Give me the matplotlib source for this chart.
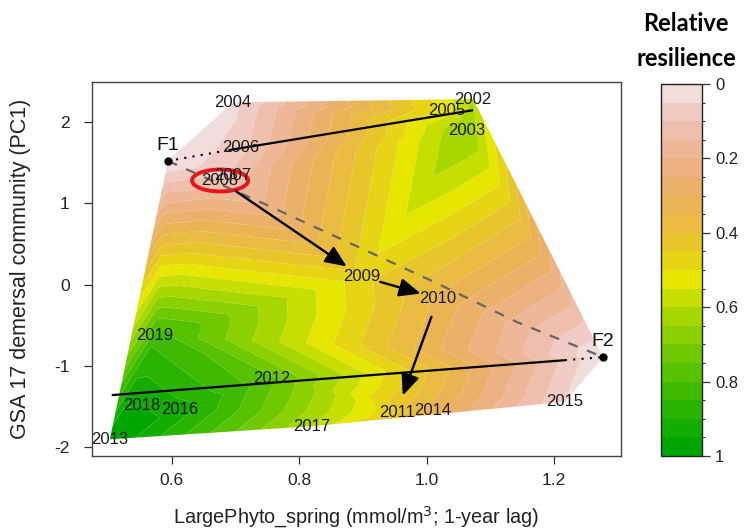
import numpy as np
import matplotlib.pyplot as plt
import matplotlib.tri as mtri
from matplotlib.colors import hsv_to_rgb, ListedColormap, BoundaryNorm
from matplotlib.patches import Ellipse

plt.rcParams['font.family'] = ['Liberation Sans', 'DejaVu Sans']
plt.rcParams['axes.unicode_minus'] = False

# yearly state: spring large phytoplankton (1-year lag) vs demersal community PC1
years = [2002, 2003, 2004, 2005, 2006, 2007, 2008, 2009, 2010,
         2011, 2012, 2013, 2014, 2015, 2016, 2017, 2018, 2019]
phyto = [1.073, 1.063, 0.696, 1.032, 0.709, 0.695, 0.676, 0.898, 1.018,
         0.953, 0.757, 0.503, 1.010, 1.217, 0.613, 0.819, 0.553, 0.574]
pc1 = [2.28, 1.90, 2.24, 2.14, 1.69, 1.34, 1.28, 0.10, -0.17,
       -1.57, -1.15, -1.90, -1.54, -1.44, -1.53, -1.74, -1.48, -0.63]
resilience = [0.60, 0.66, 0.03, 0.52, 0.08, 0.11, 0.12, 0.47, 0.34,
              0.45, 0.76, 1.00, 0.33, 0.05, 0.93, 0.60, 0.95, 0.83]

# fold bifurcation points
fold_names = ['F1', 'F2']
fold_x = [0.594, 1.277]
fold_y = [1.52, -0.89]

# unstable (threshold) branch between F1 and F2
thr_x = [0.594, 0.750, 0.914, 1.016, 1.142, 1.277]
thr_y = [1.52, 0.977, 0.387, 0.018, -0.46, -0.89]

# stable branches
upper_x = [0.689, 1.073]
upper_y = [1.652, 2.144]
lower_x = [0.506, 1.217]
lower_y = [-1.357, -0.928]

trajectory = [2008, 2009, 2010, 2011]
highlight = 2008

cbar_ticks = [0, 0.2, 0.4, 0.6, 0.8, 1]


def terrain_colors(n):
    # same ramp as R's terrain.colors()
    k = n // 2
    h = np.r_[np.linspace(4 / 12, 2 / 12, k), np.linspace(2 / 12, 0, n - k + 1)[1:]]
    s = np.r_[np.ones(k), np.linspace(1, 0, n - k + 1)[1:]]
    v = np.r_[np.linspace(0.65, 0.9, k), np.linspace(0.9, 0.95, n - k + 1)[1:]]
    return hsv_to_rgb(np.column_stack([h, s, v]))


levels = np.linspace(0, 1, 21)
cmap = ListedColormap(terrain_colors(21)[:20][::-1])
norm = BoundaryNorm(levels, cmap.N)

fig = plt.figure(figsize=(7.47, 5.30), dpi=100)
ax = fig.add_axes([92 / 747, 74 / 530, 529 / 747, 374 / 530])

tx = np.r_[phyto, fold_x]
ty = np.r_[pc1, fold_y]
tz = np.r_[resilience, [0.0, 0.0]]
tri = mtri.Triangulation(tx, ty)
cs = ax.tricontourf(tri, tz, levels=levels, cmap=cmap, norm=norm, antialiased=True)

# branches of the fold
ax.plot(upper_x, upper_y, color='k', lw=1.6, solid_capstyle='butt')
ax.plot(lower_x, lower_y, color='k', lw=1.6, solid_capstyle='butt')
ax.plot([fold_x[0], upper_x[0]], [fold_y[0], upper_y[0]], color='k', lw=1.5, ls=(0, (1, 3)))
ax.plot([lower_x[1], fold_x[1]], [lower_y[1], fold_y[1]], color='k', lw=1.5, ls=(0, (1, 3)))
ax.plot(thr_x, thr_y, color='#666666', lw=1.6, ls=(0, (4.5, 4.5)))

ax.plot(fold_x, fold_y, 'o', color='k', ms=5)
for name, fx, fy in zip(fold_names, fold_x, fold_y):
    ax.annotate(name, (fx, fy), xytext=(0, 11), textcoords='offset points',
                ha='center', va='center', fontsize=14, color='#111111')

for yr, x, y in zip(years, phyto, pc1):
    ax.text(x, y, str(yr), ha='center', va='center', fontsize=12, color='#1a1a1a')

# trajectory arrows
for a, b in zip(trajectory[:-1], trajectory[1:]):
    ia, ib = years.index(a), years.index(b)
    ax.annotate('', xy=(phyto[ib], pc1[ib]), xytext=(phyto[ia], pc1[ia]),
                arrowprops=dict(arrowstyle='-|>,head_length=0.65,head_width=0.28',
                                mutation_scale=20, color='k', lw=1.7,
                                shrinkA=14, shrinkB=13))

ih = years.index(highlight)
ax.add_patch(Ellipse((phyto[ih], pc1[ih]), 0.088, 0.27, fill=False,
                     edgecolor='#e8141c', lw=2.8))

ax.set_xlim(0.475, 1.305)
ax.set_ylim(-2.105, 2.49)
ax.set_xticks([0.6, 0.8, 1.0, 1.2])
ax.set_xticklabels(['0.6', '0.8', '1.0', '1.2'])
ax.set_yticks([-2, -1, 0, 1, 2])
ax.tick_params(direction='out', length=6, width=0.9, labelsize=12.5, colors='#333333',
               labelcolor='#222222')
ax.tick_params(axis='x', pad=6)
ax.tick_params(axis='y', pad=10)
for sp in ax.spines.values():
    sp.set_color('#444444')
    sp.set_linewidth(1.0)
ax.set_xlabel('LargePhyto_spring (mmol/m$^3$; 1-year lag)', fontsize=14.3, color='#222222')
ax.set_ylabel('GSA 17 demersal community (PC1)', fontsize=15.5, color='#222222')
ax.xaxis.set_label_coords(0.5, -0.163)
ax.xaxis.label.set_va('center')
ax.yaxis.set_label_coords(-0.136, 0.5)
ax.yaxis.label.set_va('center')

# colour key
cax = fig.add_axes([661 / 747, 74 / 530, 41 / 747, 372 / 530])
cb = fig.colorbar(cs, cax=cax, drawedges=True, ticks=cbar_ticks)
cax.invert_yaxis()
cb.ax.set_yticklabels(['0', '0.2', '0.4', '0.6', '0.8', '1'])
cb.ax.tick_params(direction='out', length=6, width=0.9, labelsize=12, colors='#333333',
                  labelcolor='#222222')
cb.outline.set_edgecolor('#222222')
cb.outline.set_linewidth(1.0)
cb.dividers.set_color('#222222')
cb.dividers.set_linewidth(1.0)

fig.text(686 / 747, 1 - 41 / 530, 'Relative\nresilience', ha='center', va='center',
         fontsize=17, fontweight='bold', family=['Lato', 'DejaVu Sans'], linespacing=1.6)

fig.savefig('out.png', dpi=100)
